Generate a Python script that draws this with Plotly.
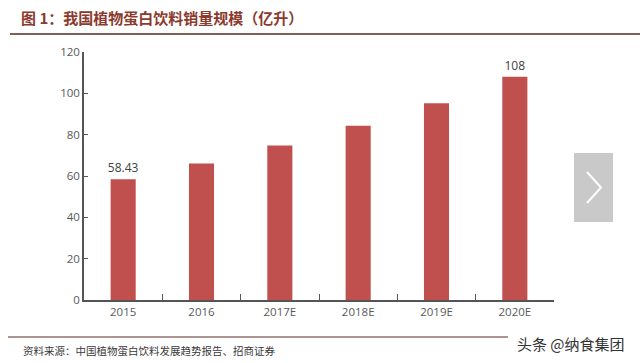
import plotly.graph_objects as go

categories = ["2015", "2016", "2017E", "2018E", "2019E", "2020E"]
values = [58.43, 66.1, 74.7, 84.3, 95.2, 108]
value_labels = ["58.43", "", "", "", "", "108"]

title_text = "图 1：我国植物蛋白饮料销量规模（亿升）"
source_text = "资料来源：中国植物蛋白饮料发展趋势报告、招商证券"
watermark_text = "头条 @纳食集团"

W, H = 640, 363
L, R, T, B = 84, 86, 52, 63
pw, ph = W - L - R, H - T - B


def px(x):
    return (x - L) / pw


def py(y):
    return (H - B - y) / ph


fig = go.Figure(
    go.Bar(
        x=categories,
        y=values,
        width=0.32,
        marker=dict(color="#C0504D", line=dict(width=0)),
        text=value_labels,
        textposition="outside",
        constraintext="none",
        textfont=dict(family="Open Sans, Liberation Sans, sans-serif", size=12, color="#404040"),
        cliponaxis=False,
    )
)

fig.update_layout(
    width=W,
    height=H,
    margin=dict(l=L, r=R, t=T, b=B),
    paper_bgcolor="white",
    plot_bgcolor="white",
    showlegend=False,
    font=dict(family="Open Sans, Liberation Sans, sans-serif", size=12, color="#595959"),
)

fig.update_xaxes(
    type="category",
    showline=True,
    linecolor="#555555",
    linewidth=1.5,
    ticks="inside",
    tickson="boundaries",
    ticklen=6,
    tickcolor="#555555",
    tickfont=dict(size=11.5, color="#595959"),
    showgrid=False,
    zeroline=False,
)
fig.update_yaxes(
    range=[0, 120],
    dtick=20,
    showline=True,
    linecolor="#555555",
    linewidth=1.5,
    ticks="inside",
    ticklen=4,
    tickcolor="#555555",
    tickfont=dict(size=11.5, color="#595959"),
    showgrid=False,
    zeroline=False,
)

cjk = "Noto Sans CJK SC"
shapes = [
    # title underline
    dict(type="line", xref="paper", yref="paper", x0=px(10), x1=px(640), y0=py(34), y1=py(34),
         line=dict(color="#5a2a22", width=1.5)),
    # bottom line
    dict(type="line", xref="paper", yref="paper", x0=px(8), x1=px(508), y0=py(337), y1=py(337),
         line=dict(color="#5a2a22", width=1.2)),
    # grey arrow box
    dict(type="rect", xref="paper", yref="paper", x0=px(574), x1=px(613), y0=py(222), y1=py(153),
         fillcolor="#c9c9c9", line=dict(width=0)),
    dict(type="path", xref="paper", yref="paper",
         path=f"M {px(587)} {py(172)} L {px(601)} {py(187.5)} L {px(587)} {py(203)}",
         line=dict(color="white", width=2)),
]

annotations = [
    dict(text=f"<b>{title_text}</b>", xref="paper", yref="paper", x=px(19), y=py(18),
         xanchor="left", yanchor="middle", showarrow=False,
         font=dict(family=cjk, size=15, color="#8B3A2E")),
    dict(text=source_text, xref="paper", yref="paper", x=px(21), y=py(350),
         xanchor="left", yanchor="middle", showarrow=False,
         font=dict(family=cjk, size=10.5, color="#3a3a3a")),
    dict(text=watermark_text, xref="paper", yref="paper", x=px(627), y=py(343),
         xanchor="right", yanchor="middle", showarrow=False,
         font=dict(family=cjk, size=15, color="#333333")),
]

fig.update_layout(shapes=shapes, annotations=annotations)

fig.write_html(
    "out.html",
    config={"displayModeBar": False},
    post_script="document.body.style.margin='0';document.body.style.overflow='hidden';",
)
